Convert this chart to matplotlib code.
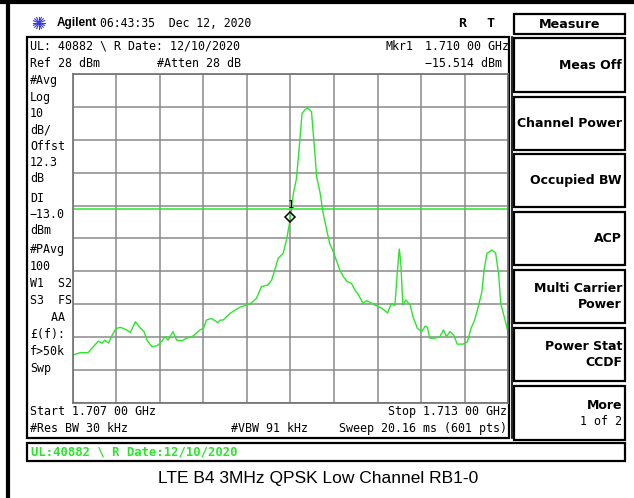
import matplotlib
matplotlib.use('Agg')
import matplotlib.pyplot as plt
from matplotlib.patches import Rectangle
import numpy as np

# sweep settings
start_mhz, stop_mhz = 1707.0, 1713.0
ref_dbm, db_div = 28.0, 10.0
dl_dbm = -13.0
mkr_mhz, mkr_dbm = 1710.00, -15.514

# averaged trace (MHz, dBm)
freq_mhz = [1707.00, 1707.10, 1707.21, 1707.24, 1707.30, 1707.35, 1707.40, 1707.44, 1707.49, 1707.53,
            1707.59, 1707.65, 1707.69, 1707.74, 1707.79, 1707.86, 1707.92, 1707.98, 1708.02, 1708.09,
            1708.16, 1708.22, 1708.27, 1708.31, 1708.38, 1708.43, 1708.50, 1708.57, 1708.66, 1708.75,
            1708.80, 1708.84, 1708.91, 1708.98, 1709.00, 1709.03, 1709.07, 1709.17, 1709.30, 1709.44,
            1709.53, 1709.60, 1709.69, 1709.74, 1709.79, 1709.83, 1709.90, 1709.95, 1710.00, 1710.04,
            1710.08, 1710.11, 1710.14, 1710.16, 1710.20, 1710.23, 1710.26, 1710.29, 1710.31, 1710.34,
            1710.36, 1710.41, 1710.45, 1710.49, 1710.54, 1710.59, 1710.64, 1710.68, 1710.73, 1710.78,
            1710.84, 1710.89, 1710.94, 1711.00, 1711.05, 1711.12, 1711.19, 1711.26, 1711.34, 1711.39,
            1711.44, 1711.47, 1711.50, 1711.52, 1711.55, 1711.59, 1711.65, 1711.69, 1711.75, 1711.81,
            1711.86, 1711.89, 1711.92, 1711.99, 1712.06, 1712.11, 1712.15, 1712.20, 1712.25, 1712.30,
            1712.38, 1712.44, 1712.49, 1712.54, 1712.59, 1712.64, 1712.67, 1712.71, 1712.78, 1712.83,
            1712.87, 1712.90, 1712.96, 1713.00]
level_dbm = [-57.4, -56.7, -56.7, -55.9, -54.4, -53.2, -53.8, -52.9, -53.8, -51.8,
             -49.4, -49.0, -49.3, -49.8, -50.6, -47.3, -49.0, -50.3, -52.9, -54.9,
             -54.6, -53.4, -51.8, -52.9, -50.3, -52.9, -53.1, -52.3, -51.6, -49.8,
             -49.3, -46.8, -46.3, -47.3, -47.6, -46.8, -46.8, -44.7, -42.9, -41.9,
             -40.2, -36.6, -36.1, -34.6, -31.1, -28.0, -26.5, -21.9, -15.5, -8.3,
             -4.0, 2.9, 11.0, 16.1, 17.1, 17.6, 17.3, 16.5, 11.0, 2.9,
             -3.2, -8.3, -14.3, -18.4, -23.5, -26.0, -29.1, -31.6, -33.6, -35.1,
             -35.6, -37.7, -39.2, -41.7, -40.9, -41.7, -42.5, -43.2, -44.6, -41.8,
             -42.4, -33.2, -25.2, -28.8, -42.2, -40.7, -42.2, -45.8, -49.3, -50.3,
             -48.6, -49.0, -52.3, -52.3, -51.8, -49.8, -51.8, -50.3, -51.3, -54.1,
             -54.1, -53.4, -49.3, -46.8, -42.7, -38.2, -31.6, -26.5, -25.5, -26.5,
             -32.6, -41.7, -46.8, -50.3]

left_annot = ['#Avg', 'Log', '10', 'dB/', 'Offst', '12.3', 'dB', 'DI', '\u221213.0', 'dBm',
              '#PAvg', '100', 'W1  S2', 'S3  FS', '   AA', '\u00a3(f):', 'f>50k', 'Swp']
left_annot_y = [80, 97, 113, 130, 146, 162, 178, 198, 214, 230, 249, 266, 283, 300, 317, 334, 351, 368]

softkeys = [['Meas Off'], ['Channel Power'], ['Occupied BW'], ['ACP'],
            ['Multi Carrier', 'Power'], ['Power Stat', 'CCDF']]
key_tops = [38, 97, 154, 212, 270, 328]
key_bots = [92, 150, 207, 265, 323, 381]

title = 'LTE B4 3MHz QPSK Low Channel RB1-0'

W, H = 634, 498
GREEN = '#2ae62a'
MONO = 'DejaVu Sans Mono'

fig = plt.figure(figsize=(W / 100, H / 100), dpi=100)
fig.patch.set_facecolor('white')

# pixel-space overlay for the instrument frame and annotations
bg = fig.add_axes([0, 0, 1, 1])
bg.set_xlim(0, W)
bg.set_ylim(H, 0)
bg.axis('off')

def box(x0, y0, x1, y1, lw=1.6, color='black'):
    bg.add_patch(Rectangle((x0, y0), x1 - x0, y1 - y0, fill=False, lw=lw, ec=color))

# outer frame
bg.plot([0, W], [1.5, 1.5], color='black', lw=3)
bg.plot([7.5, 7.5], [0, H], color='black', lw=3)

# header line
cx, cy = 39, 23
for a in np.linspace(0, np.pi, 8, endpoint=False):
    dx, dy = 6 * np.cos(a), 6 * np.sin(a)
    bg.plot([cx - dx, cx + dx], [cy - dy, cy + dy], color='#3a3adf', lw=0.8)
bg.text(57, 23, 'Agilent', fontsize=8.5, fontweight='bold', family='Liberation Sans', va='center')
bg.text(100, 23, '06:43:35  Dec 12, 2020', fontsize=8.3, family=MONO, va='center')
bg.text(462, 23, 'R', fontsize=9.5, fontweight='bold', family=MONO, va='center', ha='center')
bg.text(490, 23, 'T', fontsize=9.5, fontweight='bold', family=MONO, va='center', ha='center')

# screen area
box(27, 37, 509, 438)
bg.plot([512, 512], [37, 438], color='black', lw=1.2)
bg.text(30, 46, 'UL: 40882 \\ R Date: 12/10/2020', fontsize=8.4, family=MONO, va='center')
bg.text(30, 63, 'Ref 28 dBm', fontsize=8.4, family=MONO, va='center')
bg.text(157, 63, '#Atten 28 dB', fontsize=8.4, family=MONO, va='center')
bg.text(385, 46, 'Mkr1', fontsize=8.4, family=MONO, va='center')
bg.text(425, 46, '%.3f 00 GHz' % (mkr_mhz / 1000), fontsize=8.4, family=MONO, va='center')
bg.text(425, 63, ('%.3f dBm' % mkr_dbm).replace('-', '\u2212'), fontsize=8.4, family=MONO, va='center')
for s, y in zip(left_annot, left_annot_y):
    bg.text(30, y, s, fontsize=8.4, family=MONO, va='center')
bg.text(30, 411, 'Start %.3f 00 GHz' % (start_mhz / 1000), fontsize=8.4, family=MONO, va='center')
bg.text(507, 411, 'Stop %.3f 00 GHz' % (stop_mhz / 1000), fontsize=8.4, family=MONO, va='center', ha='right')
bg.text(30, 428, '#Res BW 30 kHz', fontsize=8.4, family=MONO, va='center')
bg.text(231, 428, '#VBW 91 kHz', fontsize=8.4, family=MONO, va='center')
bg.text(507, 428, 'Sweep 20.16 ms (601 pts)', fontsize=8.4, family=MONO, va='center', ha='right')

# softkey column
box(514, 14, 625, 34)
bg.text(569.5, 24, 'Measure', fontsize=9.2, fontweight='bold', family='DejaVu Sans', va='center', ha='center')
for lines, t, b in zip(softkeys, key_tops, key_bots):
    box(514, t, 625, b)
    mid = (t + b) / 2
    if len(lines) == 1:
        bg.text(622, mid, lines[0], fontsize=9, fontweight='bold', family='DejaVu Sans', va='center', ha='right')
    else:
        bg.text(622, mid - 8, lines[0], fontsize=9, fontweight='bold', family='DejaVu Sans', va='center', ha='right')
        bg.text(622, mid + 8, lines[1], fontsize=9, fontweight='bold', family='DejaVu Sans', va='center', ha='right')
box(514, 386, 625, 440)
bg.text(622, 405, 'More', fontsize=9, fontweight='bold', family='DejaVu Sans', va='center', ha='right')
bg.text(622, 421, '1 of 2', fontsize=8.4, family=MONO, va='center', ha='right')

# status line
box(27, 443, 625, 461)
bg.text(31, 452, 'UL:40882 \\ R Date:12/10/2020', fontsize=8.8, fontweight='bold', family=MONO,
        color=GREEN, va='center')

bg.text(318, 478, title, fontsize=12.5, family='Liberation Sans', va='center', ha='center')

# graticule and trace
ax = fig.add_axes([73 / W, (H - 403) / H, 435 / W, 329 / H])
ax.set_xlim(start_mhz, stop_mhz)
ax.set_ylim(ref_dbm - 10 * db_div, ref_dbm)
ax.set_xticks(np.linspace(start_mhz, stop_mhz, 11))
ax.set_yticks(np.linspace(ref_dbm - 10 * db_div, ref_dbm, 11))
ax.tick_params(length=0, labelbottom=False, labelleft=False)
ax.grid(True, color='#8a8a8a', lw=1.1)
for sp in ax.spines.values():
    sp.set_color('#707070')
    sp.set_linewidth(1.2)
ax.set_facecolor('white')
ax.axhline(dl_dbm, color=GREEN, lw=1.1)
ax.plot(freq_mhz, level_dbm, color=GREEN, lw=1.0)
ax.plot([mkr_mhz], [mkr_dbm], marker='D', ms=5, mfc='none', mec='black', mew=1.1)
ax.annotate('1', (mkr_mhz, mkr_dbm), xytext=(0, 9), textcoords='offset points',
            ha='center', va='center', fontsize=7.5, family=MONO)

fig.savefig('out.png', dpi=100)
